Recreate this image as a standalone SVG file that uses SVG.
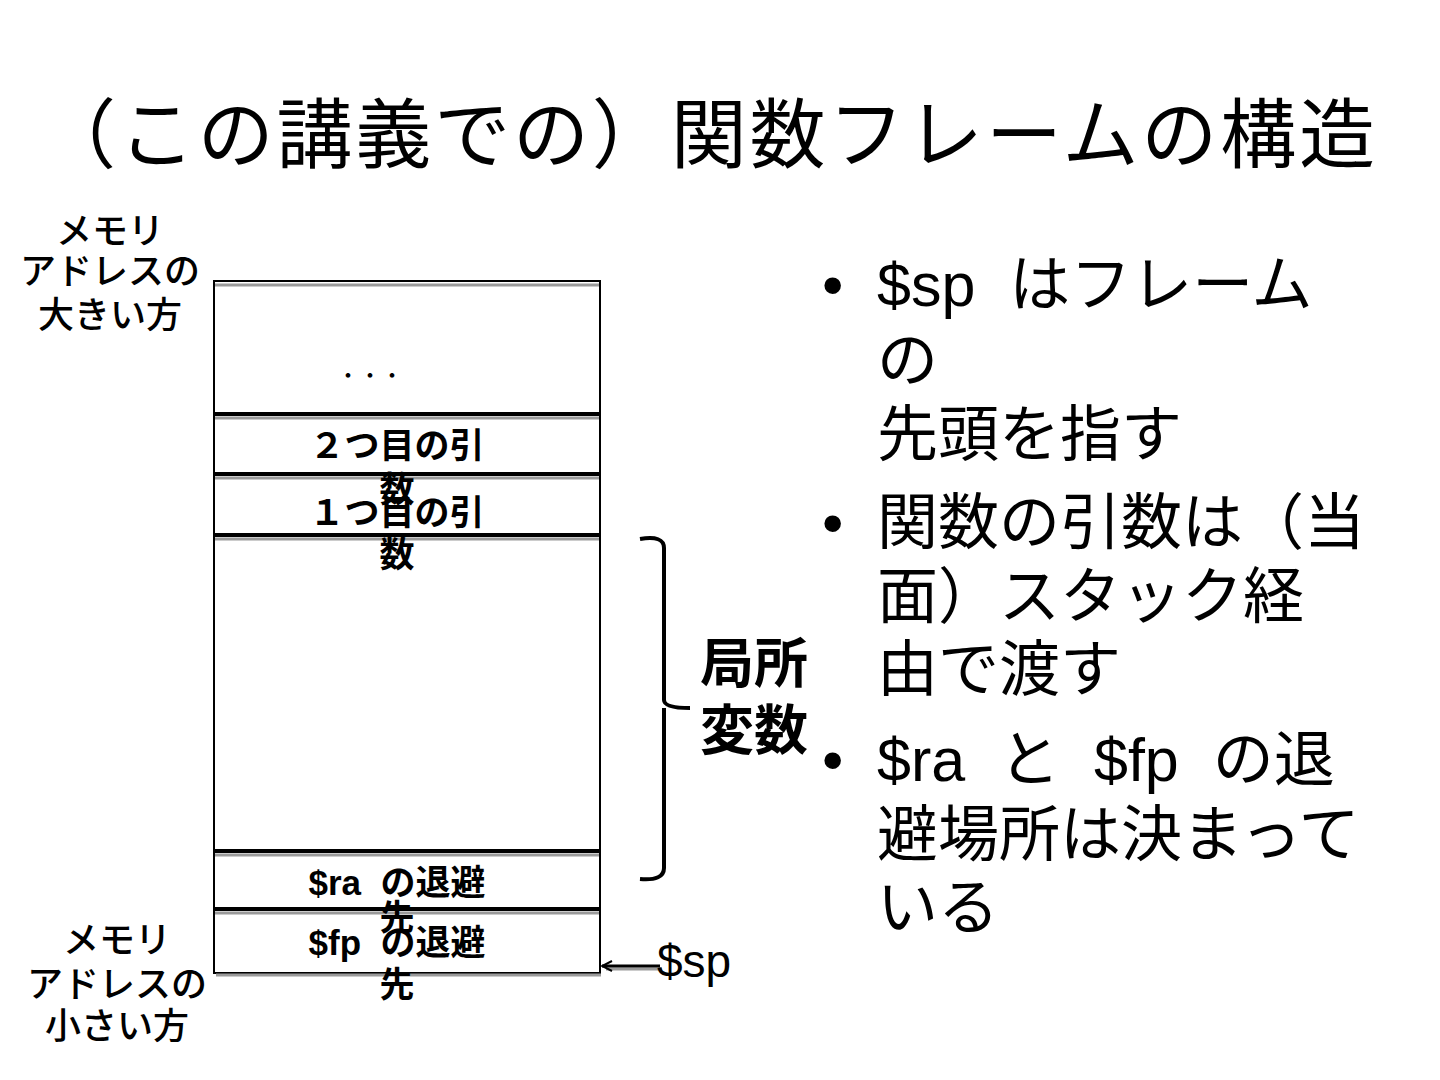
<svg xmlns="http://www.w3.org/2000/svg" width="1440" height="1080" viewBox="0 0 1440 1080">
<defs>
<style>
.t{font-family:"Liberation Sans","Noto Sans CJK JP",sans-serif;fill:#000;white-space:pre}
.title{font-size:76px}
.lab{font-size:35px;font-weight:bold;text-anchor:middle}
.side{font-size:36px;font-weight:500;text-anchor:middle}
.bul{font-size:61px}
.div{stroke:#000;stroke-width:4}
.sh{stroke:#9a9a9a;stroke-width:3}
</style>
<marker id="ah" viewBox="0 0 12 12" refX="11" refY="6" markerWidth="12" markerHeight="12" markerUnits="userSpaceOnUse" orient="auto">
<path d="M1,1 L11,6 L1,11" fill="none" stroke="#000" stroke-width="2"/>
</marker>
</defs>
<rect width="1440" height="1080" fill="#fff"/>
<text class="t title" x="40" y="162" textLength="1335" lengthAdjust="spacing">（この講義での）関数フレームの構造</text>

<g id="frame">
<rect x="214" y="281" width="386" height="692" fill="#fff" stroke="#000" stroke-width="2"/>
<line class="sh" x1="215" y1="285" x2="599" y2="285"/>
<line class="sh" x1="216" y1="975" x2="601" y2="975"/>
<line class="sh" x1="215" y1="418" x2="599" y2="418"/>
<line class="div" x1="214" y1="414" x2="600" y2="414"/>
<line class="sh" x1="215" y1="478" x2="599" y2="478"/>
<line class="div" x1="214" y1="474" x2="600" y2="474"/>
<line class="sh" x1="215" y1="539" x2="599" y2="539"/>
<line class="div" x1="214" y1="535" x2="600" y2="535"/>
<line class="sh" x1="215" y1="855" x2="599" y2="855"/>
<line class="div" x1="214" y1="851" x2="600" y2="851"/>
<line class="sh" x1="215" y1="913" x2="599" y2="913"/>
<line class="div" x1="214" y1="909" x2="600" y2="909"/>
</g>

<g id="dots"><text class="t" x="370" y="383" font-size="22" text-anchor="middle">・・・</text></g>
<g id="arg2"><text class="t lab" x="397" y="458">２つ目の引</text><text class="t lab" x="397" y="502">数</text></g>
<g id="arg1"><text class="t lab" x="397" y="525">１つ目の引</text><text class="t lab" x="397" y="567">数</text></g>
<g id="ra"><text class="t lab" x="397" y="895">$ra  の退避</text><text class="t lab" x="397" y="930">先</text></g>
<g id="fp"><text class="t lab" x="397" y="955">$fp  の退避</text><text class="t lab" x="397" y="997">先</text></g>

<g id="high"><text class="t side" x="110" y="244">メモリ</text><text class="t side" x="110" y="284">アドレスの</text><text class="t side" x="110" y="328">大きい方</text></g>
<g id="low"><text class="t side" x="117" y="953">メモリ</text><text class="t side" x="117" y="997">アドレスの</text><text class="t side" x="117" y="1039">小さい方</text></g>

<g id="brace">
<path d="M640,539 Q664,535 664,548 L664,700 Q664,708 690,708 M664,708 L664,868 Q664,881 640,879" fill="none" stroke="#000" stroke-width="4"/>
<text class="t" x="700" y="683" font-size="54" font-weight="bold">局所</text>
<text class="t" x="700" y="750" font-size="54" font-weight="bold">変数</text>
</g>

<g id="connectors">
<line x1="662" y1="969" x2="606" y2="969" stroke="#9a9a9a" stroke-width="3"/>
<line x1="660" y1="966" x2="602" y2="966" stroke="#000" stroke-width="3" marker-end="url(#ah)"/>
</g>
<g id="sp"><text class="t" x="657" y="977" font-size="46">$sp</text></g>

<g id="bullets">
<text class="t bul" x="822" y="306">•</text>
<text class="t bul" x="877" y="306">$sp  はフレーム</text>
<text class="t bul" x="877" y="382">の</text>
<text class="t bul" x="877" y="456">先頭を指す</text>
<text class="t bul" x="822" y="544">•</text>
<text class="t bul" x="877" y="544">関数の引数は（当</text>
<text class="t bul" x="877" y="618">面）スタック経</text>
<text class="t bul" x="877" y="691">由で渡す</text>
<text class="t bul" x="822" y="781">•</text>
<text class="t bul" x="877" y="781">$ra  と  $fp  の退</text>
<text class="t bul" x="877" y="856">避場所は決まって</text>
<text class="t bul" x="877" y="929">いる</text>
</g>
</svg>
